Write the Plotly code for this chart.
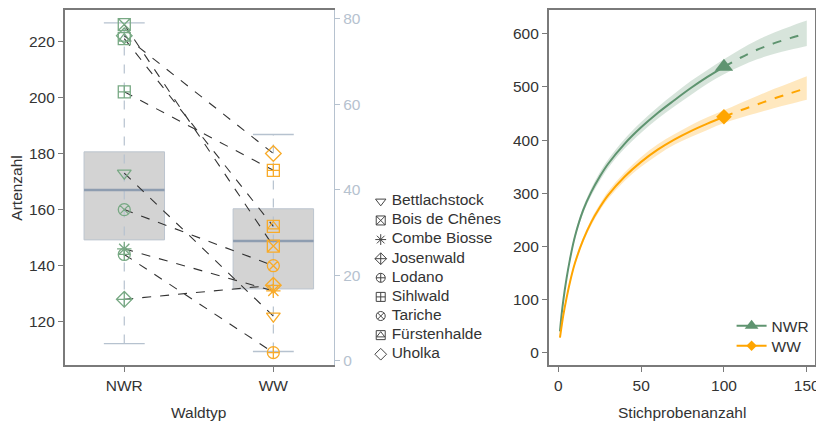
import plotly.graph_objects as go

# ---------------- data: left panel (species numbers per reserve) ----------------
sites = ["Bettlachstock", "Bois de Chênes", "Combe Biosse", "Josenwald", "Lodano",
         "Sihlwald", "Tariche", "Fürstenhalde", "Uholka"]
site_symbols = ["triangle-down-open", "square-x-open", "asterisk-open", "diamond-cross-open",
                "circle-cross-open", "square-cross-open", "circle-x-open", "square-open",
                "diamond-open"]
nwr_values = [173, 226, 146, 128, 144, 202, 160, 221, 222]
ww_values = [122, 147, 131, 133, 109, 174, 140, 154, 180]
groups = ["NWR", "WW"]

# box statistics (as drawn)
box_q1 = [149.2, 131.7]
box_median = [167.0, 148.8]
box_q3 = [180.6, 160.3]
box_lower = [112.2, 109.4]
box_upper = [226.6, 186.8]

right_axis_ticks = [0, 20, 40, 60, 80]

# ---------------- data: right panel (rarefaction / extrapolation) ----------------
n_obs = [1, 2, 3, 5, 7, 10, 15, 20, 25, 30, 40, 50, 60, 70, 80, 90, 100]
nwr_obs = [40, 72, 98, 140, 175, 218, 268, 303, 331, 355, 393, 424, 451, 475, 498, 519, 538]
ww_obs = [28, 50, 70, 103, 132, 168, 212, 246, 273, 296, 331, 359, 382, 401, 417, 431, 444]
nwr_obs_ci = [2, 3, 3, 4, 4, 5, 6, 7, 8, 8, 9, 10, 11, 12, 13, 13, 14]
ww_obs_ci = [2, 2, 3, 3, 4, 4, 5, 6, 6, 7, 8, 9, 10, 10, 11, 12, 12]

n_ext = [100, 110, 120, 130, 140, 150]
nwr_ext = [538, 555, 570, 582, 592, 601]
ww_ext = [444, 456, 467, 478, 488, 498]
nwr_ext_ci = [14, 16, 18, 20, 22, 24]
ww_ext_ci = [12, 14, 16, 18, 20, 22]

# ---------------- styles ----------------
GREEN = "#5f9470"
GREEN_L = "#78a984"
ORANGE = "#ffa500"
ORANGE_L = "#f8ab2a"
AXIS = "#7a7a7a"
TXT = "#333333"
LIGHT = "#b6c2cf"
FONT = "Liberation Sans, Arial, sans-serif"
FS = 15.5

OFF = 8          # page body margin
W, H = 824, 429  # figure size


def px_x(a, b):
    return [(a - OFF) / W, (b - OFF) / W]


def px_y(top, bottom):
    return [1 - (bottom - OFF) / H, 1 - (top - OFF) / H]


def fx(a):
    return (a - OFF) / W


def fy(a):
    return 1 - (a - OFF) / H


fig = go.Figure()
xpos = [0, 1]
half_box = 0.27
half_cap = 0.137

# whiskers (dashed) + caps
for i in range(2):
    fig.add_trace(go.Scatter(x=[xpos[i], xpos[i]], y=[box_lower[i], box_upper[i]], mode="lines",
                             line=dict(color=LIGHT, width=1.2, dash="dash"), showlegend=False,
                             hoverinfo="skip", xaxis="x", yaxis="y"))
    for v in (box_lower[i], box_upper[i]):
        fig.add_trace(go.Scatter(x=[xpos[i] - half_cap, xpos[i] + half_cap], y=[v, v], mode="lines",
                                 line=dict(color=LIGHT, width=1.4), showlegend=False,
                                 hoverinfo="skip", xaxis="x", yaxis="y"))

# boxes
for i in range(2):
    fig.add_trace(go.Box(x=[xpos[i]], q1=[box_q1[i]], median=[box_median[i]], q3=[box_q3[i]],
                         lowerfence=[box_q1[i]], upperfence=[box_q3[i]], width=2 * half_box,
                         fillcolor="#d3d3d3", line=dict(color="#bcc5cf", width=1),
                         whiskerwidth=0, showlegend=False, hoverinfo="skip", xaxis="x", yaxis="y"))
    fig.add_trace(go.Scatter(x=[xpos[i] - half_box, xpos[i] + half_box],
                             y=[box_median[i], box_median[i]], mode="lines",
                             line=dict(color="#8e9db0", width=2.6), showlegend=False,
                             hoverinfo="skip", xaxis="x", yaxis="y"))

# connecting lines
for s, a, b in zip(sites, nwr_values, ww_values):
    fig.add_trace(go.Scatter(x=[0, 1], y=[a, b], mode="lines",
                             line=dict(color="#333333", width=1.1, dash="dash"),
                             showlegend=False, hoverinfo="skip", xaxis="x", yaxis="y"))

# markers
fi = sites.index("Fürstenhalde")
for gi, (vals, col) in enumerate([(nwr_values, GREEN_L), (ww_values, ORANGE_L)]):
    fig.add_trace(go.Scatter(x=[xpos[gi]] * len(vals), y=vals, mode="markers",
                             marker=dict(symbol=site_symbols, size=12, color=col,
                                         line=dict(color=col, width=1.3)),
                             showlegend=False, hoverinfo="skip", xaxis="x", yaxis="y"))
    fig.add_trace(go.Scatter(x=[xpos[gi]], y=[vals[fi]], mode="markers",
                             marker=dict(symbol="triangle-up-open", size=10, color=col,
                                         line=dict(color=col, width=1.2)),
                             showlegend=False, hoverinfo="skip", xaxis="x", yaxis="y"))

# invisible trace on right-hand axis of the left panel
fig.add_trace(go.Scatter(x=[None], y=[None], xaxis="x", yaxis="y2", showlegend=False))

# custom legend for sites (hidden axes, pixel-like units)
leg_idx = list(range(len(sites)))
fig.add_trace(go.Scatter(x=[7] * len(sites), y=leg_idx, mode="markers",
                         marker=dict(symbol=site_symbols, size=9, color="#444444",
                                     line=dict(color="#444444", width=1)),
                         showlegend=False, hoverinfo="skip", xaxis="x3", yaxis="y4",
                         cliponaxis=False))
fig.add_trace(go.Scatter(x=[7], y=[leg_idx[fi]], mode="markers",
                         marker=dict(symbol="triangle-up-open", size=7, color="#444444",
                                     line=dict(color="#444444", width=1)),
                         showlegend=False, hoverinfo="skip", xaxis="x3", yaxis="y4",
                         cliponaxis=False))
fig.add_trace(go.Scatter(x=[18] * len(sites), y=leg_idx, mode="text",
                         text=sites, textposition="middle right",
                         textfont=dict(family=FONT, size=FS, color=TXT),
                         showlegend=False, hoverinfo="skip", xaxis="x3", yaxis="y4",
                         cliponaxis=False))

# ---------------- right panel ----------------
series = [
    ("NWR", nwr_obs, nwr_obs_ci, nwr_ext, nwr_ext_ci, GREEN, "rgba(95,148,112,0.25)",
     "triangle-up", 16, 12, "legend2"),
    ("WW", ww_obs, ww_obs_ci, ww_ext, ww_ext_ci, ORANGE, "rgba(255,165,0,0.25)",
     "diamond", 12, 8, "legend3"),
]
for name, obs, obs_ci, ext, ext_ci, col, fillc, sym, msize, lsize, leg in series:
    n_all = n_obs + n_ext[1:]
    v_all = obs + ext[1:]
    ci_all = obs_ci + ext_ci[1:]
    lower = [v - c for v, c in zip(v_all, ci_all)]
    upper = [v + c for v, c in zip(v_all, ci_all)]
    fig.add_trace(go.Scatter(x=n_all, y=lower, mode="lines", line=dict(width=0, shape="spline"),
                             showlegend=False, hoverinfo="skip", xaxis="x2", yaxis="y3"))
    fig.add_trace(go.Scatter(x=n_all, y=upper, mode="lines", line=dict(width=0, shape="spline"),
                             fill="tonexty", fillcolor=fillc,
                             showlegend=False, hoverinfo="skip", xaxis="x2", yaxis="y3"))
    fig.add_trace(go.Scatter(x=n_obs, y=obs, mode="lines",
                             line=dict(color=col, width=2, shape="spline"),
                             showlegend=False, hoverinfo="skip", xaxis="x2", yaxis="y3"))
    fig.add_trace(go.Scatter(x=n_ext, y=ext, mode="lines",
                             line=dict(color=col, width=2, dash="dash", shape="spline"),
                             showlegend=False, hoverinfo="skip", xaxis="x2", yaxis="y3"))
    fig.add_trace(go.Scatter(x=[n_obs[-1]], y=[obs[-1]], mode="markers",
                             marker=dict(symbol=sym, size=msize, color=col),
                             showlegend=False, hoverinfo="skip", xaxis="x2", yaxis="y3"))
    fig.add_trace(go.Scatter(x=[None], y=[None], mode="lines+markers", name=name,
                             line=dict(color=col, width=2),
                             marker=dict(symbol=sym, size=lsize, color=col),
                             showlegend=True, legend=leg, xaxis="x2", yaxis="y3"))

# ---------------- layout ----------------
tickfont = dict(family=FONT, size=FS, color=TXT)
top, bottom = 10, 368

fig.update_layout(
    width=W, height=H,
    margin=dict(l=0, r=0, t=0, b=0),
    paper_bgcolor="white", plot_bgcolor="white",
    font=dict(family=FONT, size=FS, color=TXT),
    xaxis=dict(domain=px_x(65, 336), range=[-0.4, 1.407], tickvals=xpos, ticktext=groups,
               showgrid=False, zeroline=False, showline=True, linecolor=AXIS, linewidth=1.5,
               mirror=True, ticks="outside", ticklen=5, tickcolor=AXIS, tickfont=tickfont,
               anchor="y"),
    yaxis=dict(domain=px_y(top, bottom), range=[104.4, 231.2], tickvals=[120, 140, 160, 180, 200, 220],
               showgrid=False, zeroline=False, showline=True, linecolor=AXIS, linewidth=1.5,
               ticks="outside", ticklen=5, tickcolor=AXIS, tickfont=tickfont, anchor="x"),
    yaxis2=dict(overlaying="y", side="right", anchor="x", range=[-1.16, 82.1],
                tickvals=right_axis_ticks, showgrid=False, zeroline=False, showline=True,
                linecolor=LIGHT, linewidth=1.2, ticks="outside", ticklen=5, tickcolor=LIGHT,
                tickfont=dict(family=FONT, size=FS, color=LIGHT)),
    xaxis2=dict(domain=px_x(552, 820), range=[-5.8, 155.0], tickvals=[0, 50, 100, 150],
                showgrid=False, zeroline=False, showline=True, linecolor=AXIS, linewidth=1.5,
                mirror=True, ticks="outside", ticklen=5, tickcolor=AXIS, tickfont=tickfont,
                ticklabeloverflow="allow", anchor="y3"),
    yaxis3=dict(domain=px_y(top, bottom), range=[-24.3, 644.9],
                tickvals=[0, 100, 200, 300, 400, 500, 600],
                showgrid=False, zeroline=False, showline=True, linecolor=AXIS, linewidth=1.5,
                mirror=True, ticks="outside", ticklen=5, tickcolor=AXIS, tickfont=tickfont,
                anchor="x2"),
    xaxis3=dict(domain=px_x(376, 540), range=[0, 164], visible=False, anchor="y4"),
    yaxis4=dict(domain=px_y(193.1, 366.3), range=[8.5, -0.5], visible=False, anchor="x3"),
    legend2=dict(x=fx(736), y=fy(328.5), xanchor="left", yanchor="middle",
                 bgcolor="rgba(0,0,0,0)", font=dict(family=FONT, size=FS, color=TXT)),
    legend3=dict(x=fx(736), y=fy(348.5), xanchor="left", yanchor="middle",
                 bgcolor="rgba(0,0,0,0)", font=dict(family=FONT, size=FS, color=TXT)),
    annotations=[
        dict(text="Artenzahl", x=fx(17), y=fy(189), xref="paper", yref="paper",
             xanchor="center", yanchor="middle",
             textangle=-90, showarrow=False, font=dict(family=FONT, size=FS, color=TXT)),
        dict(text="Waldtyp", x=fx(200), y=fy(415), xref="paper", yref="paper",
             xanchor="center", yanchor="middle",
             showarrow=False, font=dict(family=FONT, size=FS, color=TXT)),
        dict(text="Stichprobenanzahl", x=fx(686), y=fy(415), xref="paper", yref="paper",
             xanchor="center", yanchor="middle",
             showarrow=False, font=dict(family=FONT, size=FS, color=TXT)),
    ],
)

fig.write_html("out.html")
